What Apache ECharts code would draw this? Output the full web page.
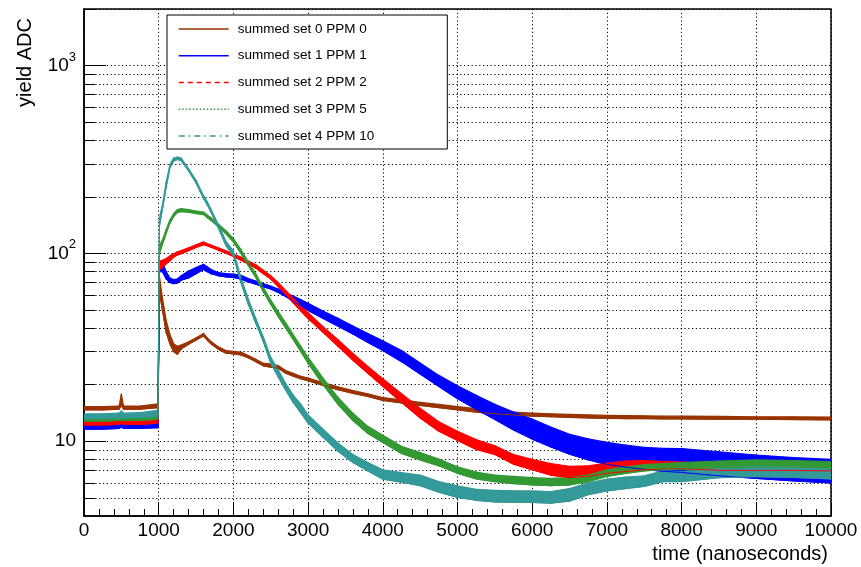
<!DOCTYPE html>
<html><head><meta charset="utf-8">
<script src="https://cdn.jsdelivr.net/npm/echarts@6/dist/echarts.min.js"></script>
<style>html,body{margin:0;padding:0;background:#fff}#c{width:861px;height:567px}</style>
</head><body><div id="c"></div>
<script>
// ---- data ----
const times = [0, 250, 470, 500, 530, 750, 990, 1010, 1050, 1100, 1150, 1200, 1250, 1300, 1400, 1500, 1600, 1650, 1700, 1800, 1900, 2000, 2100, 2200, 2300, 2400, 2500, 2600, 2700, 2800, 2900, 3000, 3200, 3400, 3600, 3800, 4000, 4250, 4500, 4750, 5000, 5250, 5500, 5750, 6000, 6250, 6500, 6750, 7000, 7250, 7500, 7750, 8000, 8500, 9000, 9500, 10000];

const seriesNames = ['summed set 0 PPM 0', 'summed set 1 PPM 1', 'summed set 2 PPM 2', 'summed set 3 PPM 5', 'summed set 4 PPM 10'];

// lower / upper edge of each noisy trace
const set0Low  = [14.7,14.7,14.8,15.5,14.8,14.8,15.1, 62,50,38,33,30,29,31, 32.8,34.6,36.3,34.5,33,30.8,29.4,29.2, 28.8,27.8,26.5,25.2,24.8,24.5,23.0,22.2,21.5, 21.0,19.8,18.8,18.0,17.3,16.5, 16.0,15.5,15.1,14.7,14.3,14.0,13.8,13.6, 13.5,13.4,13.3,13.25,13.2,13.2,13.15,13.15, 13.1,13.1,13.05,13.0];
const set0High = [15.3,15.3,15.4,17.8,15.4,15.4,15.8, 75,58,44,37,33,32,32.5, 33.8,35.6,37.5,35.5,34,31.8,30.4,30.1, 29.8,28.6,27.3,26.0,25.8,25.3,23.8,23.0,22.2, 21.7,20.5,19.5,18.6,17.9,17.1, 16.6,16.1,15.7,15.3,14.9,14.6,14.3,14.1, 14.0,13.9,13.8,13.75,13.7,13.65,13.6,13.6, 13.55,13.5,13.5,13.45];

const set1Low  = [11.6,11.6,11.7,11.9,11.7,11.7,11.8, 80,80,73,70,69,69.5,72, 74,78,82,80,78,76,75,74.5, 73,70.5,68.5,66.5,64.6,62,59,55.6,52.5, 49.7,45.1,41.0,37.2,33.6,30.4, 26.54,22.77,19.59,16.85,14.81,13.07,11.48,10.27, 9.32,8.53,7.96,7.53,7.28,7.08,6.92,6.82, 6.55,6.34,6.15,6.0];
const set1High = [12.5,12.5,12.6,13.0,12.6,12.6,12.8, 91,90,80,74,72.6,73,76, 80.6,84,87.5,85,82,79,78,77.5, 76.5,73.5,71.2,69,67,64.6,61.5,59.3,56.8, 54.2,49.4,45.1,41.1,37.5,34.3, 30.37,26.06,22.42,19.76,17.58,15.71,14.31,13.11, 11.9,10.89,10.29,9.86,9.53,9.27,9.16,9.15, 8.79,8.45,8.19,8.0];

const set2Low  = [12.2,12.2,12.3,12.5,12.3,12.3,12.5, 82,84,88,91,95.5,98,99.5, 103.5,107.5,111.3,109.8,107.8,104,100.3,96.3, 92,87.8,83.5,78,73,66.5,60.5,54.5,49.5, 45,38,32,27,23.0,19.6, 16.1,13.3,11.3,10.1,9.05,8.5,7.55,7.05, 6.6,6.4,6.5,6.75,6.9,7.05,7.1,7.15, 7.0,7.0,7.0,6.95];
const set2High = [12.9,12.9,13.0,13.4,13.0,13.0,13.3, 91,92,94,97,99.5,102,103.5, 107,111,115.1,112.8,110.8,107,103.3,99.3, 95.5,91,87,81.3,76,69.8,63.5,57.8,52.5, 48.3,40.7,34.7,29.3,25.0,21.5, 17.9,15.0,12.7,11.3,10.2,9.45,8.5,8.0, 7.6,7.35,7.4,7.65,7.85,7.9,7.8,7.75, 7.6,7.55,7.5,7.45];

const set3Low  = [12.8,12.8,12.9,13.0,12.9,12.9,13.1, 100,112,128,145,157,165,167, 166,163,161,155,150,138,127,115, 100,86,74.5,62.5,53.5,46,40,34.8,30.1, 26,20,15.7,12.9,11,9.85, 8.6,7.95,7.4,6.75,6.3,6.1,5.95,5.85, 5.8,5.85,6.1,6.5,6.75,6.95,7.05,7.1, 7.25,7.3,7.3,7.2];
const set3High = [13.4,13.4,13.5,13.8,13.5,13.5,13.8, 110,118,134,151,163,171,173, 171,168,166,160,155,143,132,120, 105,90,78,66,56.5,49,42.7,37,32.1, 28,21.7,17.1,14.1,12,10.75, 9.4,8.7,8.05,7.3,6.85,6.6,6.5,6.4, 6.35,6.4,6.6,7.05,7.3,7.5,7.6,7.7, 7.85,7.95,7.9,7.8];

const set4Low  = [13.2,13.2,13.3,13.5,13.3,13.4,13.6, 140,172,225,285,310,316,312, 275,237,196,181,166,136,110,97, 70,53.5,42.5,34,26,22,18.7,16.1,14.2, 12.5,10.5,8.85,7.7,6.95,6.28, 6.05,5.8,5.35,5.02,4.85,4.75,4.72,4.72, 4.68,4.8,5.2,5.44,5.6,5.75,6.1,6.1, 6.4,6.48,6.42,6.3];
const set4High = [14.0,14.0,14.1,14.5,14.1,14.2,14.6, 155,182,240,298,322,326,322, 283,245,203,188,172,142,116,103, 74.5,57,45,36,28,24,20.3,17.6,15.8, 13.8,11.6,9.8,8.5,7.7,7.05, 6.8,6.6,6.1,5.79,5.55,5.48,5.44,5.44, 5.40,5.6,6.0,6.28,6.45,6.54,6.95,6.9, 7.25,7.35,7.3,7.15];

const yMajorTicks = [10, 100, 1000];
const yMajorExponents = ['', '2', '3'];
const yMinorTicks = [5, 6, 7, 8, 9, 20, 30, 40, 50, 60, 70, 80, 90, 200, 300, 400, 500, 600, 700, 800, 900, 2000];
const xTickStep = 1000;

// ---- styling ----
const FONT = "'Liberation Sans', Arial, Helvetica, sans-serif";
const colors = ['#993300', '#0000ff', '#ff0000', '#339933', '#339999'];
const legendDash = ['solid', 'solid', [5, 4], [1.5, 2], [6, 4, 1.5, 4]];
const lows = [set0Low, set1Low, set2Low, set3Low, set4Low];
const highs = [set0High, set1High, set2High, set3High, set4High];

const series = [];
seriesNames.forEach((name, i) => {
  const c = colors[i];
  const lo = lows[i], hi = highs[i];
  // lower edge as a plain line (also provides the legend entry)
  series.push({
    name, type: 'line', symbol: 'none', animation: false, silent: true,
    lineStyle: { color: c, width: 1 }, itemStyle: { color: c },
    data: times.map((t, k) => [t, lo[k]])
  });
  // filled noise band between lower and upper edge, segment by segment
  const segs = [];
  for (let k = 0; k < times.length - 1; k++) {
    segs.push([times[k], lo[k], hi[k], times[k + 1], lo[k + 1], hi[k + 1]]);
  }
  series.push({
    name, type: 'custom', animation: false, silent: true, clip: true,
    encode: { x: [0, 3], y: [1, 2, 4, 5] },
    data: segs,
    renderItem: (params, api) => {
      const a = api.coord([api.value(0), api.value(1)]);
      const b = api.coord([api.value(3), api.value(4)]);
      const d = api.coord([api.value(3), api.value(5)]);
      const e = api.coord([api.value(0), api.value(2)]);
      return {
        type: 'polygon', silent: true,
        shape: { points: [a, b, d, e] },
        style: { fill: c, stroke: c, lineWidth: 1.2, lineJoin: 'round' }
      };
    }
  });
});

const dotted = { color: '#000', width: 1, type: [1.2, 2.6] };

const chart = echarts.init(document.getElementById('c'), null, { renderer: 'canvas' });
chart.setOption({
  animation: false,
  backgroundColor: '#fff',
  grid: { left: 84, right: 30, top: 9, bottom: 51, show: true, borderColor: '#000', borderWidth: 1.5, backgroundColor: 'transparent' },
  legend: {
    left: 167, top: 15, orient: 'vertical', itemWidth: 50, itemHeight: 14, itemGap: 12.75,
    padding: [7, 73, 6, 11], borderColor: '#000', borderWidth: 1, backgroundColor: '#fff',
    selectedMode: false, itemStyle: { opacity: 0 },
    textStyle: { fontSize: 13.5, fontFamily: FONT, color: '#000', padding: [0, 0, 0, 4] },
    data: seriesNames.map((n, i) => ({ name: n, lineStyle: { color: colors[i], width: 1.5, type: legendDash[i] }, itemStyle: { opacity: 0 } }))
  },
  xAxis: {
    type: 'value', min: 0, max: 10000, interval: xTickStep,
    name: 'time (nanoseconds)', nameLocation: 'end', nameGap: -3,
    nameTextStyle: { fontSize: 20, fontFamily: FONT, color: '#000', align: 'right', verticalAlign: 'top', padding: [28, 0, 0, 0] },
    axisLine: { onZero: false, lineStyle: { color: '#000', width: 1.5 } },
    axisTick: { inside: true, length: 14, lineStyle: { color: '#000', width: 1 } },
    minorTick: { show: true, splitNumber: 5, length: 7, lineStyle: { color: '#000', width: 1 } },
    axisLabel: { fontSize: 19, fontFamily: FONT, color: '#000', margin: 5, formatter: v => String(v) },
    splitLine: { show: true, lineStyle: dotted }
  },
  yAxis: [{
    type: 'log', logBase: 10, min: 4, max: 2000, position: 'left',
    name: 'yield ADC', nameLocation: 'end', nameRotate: 90, nameGap: -9,
    nameTextStyle: { fontSize: 20, fontFamily: FONT, color: '#000', align: 'right', verticalAlign: 'bottom', padding: [0, 0, 49, 0] },
    axisLine: { show: true, lineStyle: { color: '#000', width: 1.5 } },
    axisTick: { inside: true, length: 22, customValues: yMajorTicks, lineStyle: { color: '#000', width: 1 } },
    axisLabel: {
      customValues: yMajorTicks, margin: 8, fontFamily: FONT, color: '#000',
      formatter: v => {
        const idx = yMajorTicks.indexOf(Math.round(v));
        const e = idx >= 0 ? yMajorExponents[idx] : '';
        return e ? '{b|10}{s|' + e + '}' : '{b|10}';
      },
      rich: {
        b: { fontSize: 19, lineHeight: 30, fontFamily: FONT, color: '#000' },
        s: { fontSize: 13, lineHeight: 12, fontFamily: FONT, color: '#000', verticalAlign: 'top' }
      }
    },
    splitLine: { show: true, lineStyle: dotted }
  }, {
    type: 'log', logBase: 10, min: 4, max: 2000, position: 'left', offset: 0,
    axisLine: { show: false },
    axisTick: { inside: true, length: 11, customValues: yMinorTicks, lineStyle: { color: '#000', width: 1 } },
    axisLabel: { show: false },
    splitLine: { show: true, lineStyle: dotted }
  }],
  series
});
</script>
</body></html>
